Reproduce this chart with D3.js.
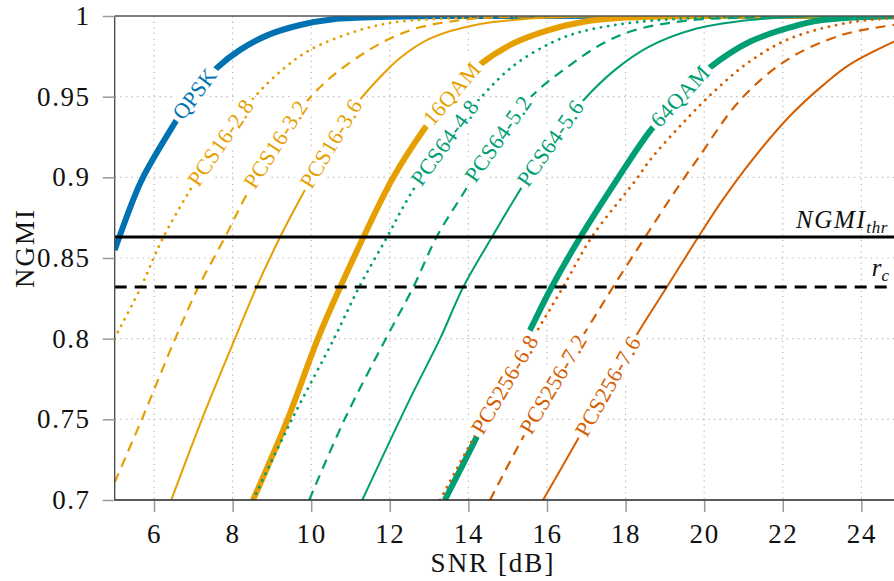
<!DOCTYPE html>
<html>
<head>
<meta charset="utf-8">
<script src="https://cdn.jsdelivr.net/npm/d3@7"></script>
<style>
  body { margin: 0; background: #fff; }
  svg { display: block; }
  text { font-family: "Liberation Serif", "Times New Roman", serif; fill: #111; }
</style>
</head>
<body>
<svg id="chart" width="894" height="581"></svg>
<script>
// ---- data: NGMI versus SNR [dB] ----
const xTicks = [6, 8, 10, 12, 14, 16, 18, 20, 22, 24];
const yTicks = [0.7, 0.75, 0.8, 0.85, 0.9, 0.95, 1];
const yTickLabels = ["0.7", "0.75", "0.8", "0.85", "0.9", "0.95", "1"];

const ngmiThr = 0.863;
const rc = 0.832;

const qpsk = [[5,0.855],[5.47,0.886],[5.72,0.9],[6.46,0.931],[7.0,0.951],[7.61,0.968],[8.19,0.979],[8.88,0.988],[9.72,0.9944],[10.56,0.998],[12,0.9995],[14,1],[25,1]];
const pcs16_28 = [[5,0.8],[5.08,0.804],[5.67,0.832],[5.99,0.85],[6.24,0.863],[6.89,0.891],[7.7,0.922],[8.49,0.948],[9.28,0.967],[9.97,0.979],[11.07,0.99],[12.09,0.996],[14,0.999],[16,1],[25,1]];
const pcs16_32 = [[5,0.711],[5.69,0.75],[6.54,0.8],[7.13,0.832],[7.81,0.863],[8.35,0.889],[9.1,0.921],[9.92,0.948],[10.55,0.963],[11.41,0.978],[12.09,0.987],[12.77,0.993],[14,0.998],[16,1],[25,1]];
const pcs16_36 = [[6.44,0.7],[7.22,0.75],[8.06,0.8],[8.61,0.832],[9.21,0.863],[9.77,0.889],[10.5,0.921],[11.24,0.948],[11.75,0.962],[12.26,0.974],[13.02,0.986],[14.3,0.995],[16,0.999],[18,1],[25,1]];
const qam16 = [[8.52,0.7],[9.4,0.75],[10.17,0.8],[10.74,0.832],[11.33,0.863],[12.09,0.9],[12.85,0.929],[13.6,0.953],[14.3,0.97],[15.14,0.983],[16.0,0.991],[16.84,0.996],[18,0.999],[20,1],[25,1]];
const pcs64_48 = [[8.52,0.7],[9.51,0.75],[10.58,0.8],[11.22,0.832],[11.93,0.863],[12.49,0.888],[13.4,0.922],[14.3,0.949],[15.14,0.969],[16.08,0.983],[16.83,0.99],[18.2,0.996],[20,0.999],[22,1],[25,1]];
const pcs64_52 = [[9.95,0.7],[10.85,0.75],[11.9,0.8],[12.6,0.832],[13.19,0.863],[13.87,0.89],[14.75,0.924],[15.64,0.951],[16.5,0.968],[17.35,0.982],[18.2,0.991],[19.5,0.997],[21,0.999],[23,1],[25,1]];
const pcs64_56 = [[11.3,0.7],[12.52,0.763],[13.28,0.8],[13.87,0.832],[14.6,0.863],[15.26,0.89],[16.1,0.922],[16.9,0.947],[17.7,0.966],[18.6,0.981],[19.7,0.9915],[21.16,0.9975],[23,1],[25,1]];
const qam64 = [[13.4,0.7],[14.17,0.737],[14.85,0.771],[15.52,0.803],[16.12,0.832],[16.85,0.863],[17.82,0.9],[18.6,0.928],[19.4,0.951],[20.14,0.968],[21.16,0.984],[22.2,0.993],[23.0,0.9975],[25,1]];
const pcs256_68 = [[13.28,0.7],[14.1,0.737],[14.9,0.771],[15.75,0.805],[16.41,0.832],[17.14,0.863],[18.28,0.899],[18.63,0.911],[19.47,0.934],[20.33,0.955],[21.17,0.972],[22.18,0.986],[23.7,0.996],[25,0.999]];
const pcs256_72 = [[14.55,0.7],[15.26,0.733],[16.1,0.77],[17.02,0.806],[17.68,0.832],[18.5,0.863],[19.25,0.891],[19.82,0.911],[20.92,0.948],[22.12,0.973],[23.47,0.988],[24.56,0.9935],[25,0.995]];
const pcs256_76 = [[15.9,0.7],[16.77,0.737],[17.55,0.771],[18.3,0.803],[19.05,0.832],[19.85,0.863],[20.47,0.886],[21.23,0.911],[22.18,0.938],[23.02,0.957],[23.71,0.97],[25,0.986]];

const colors = { qpsk: "#0072B2", qam16: "#E69F00", qam64: "#009E73", qam256: "#D55E00" };

const series = [
  { name: "QPSK",       data: qpsk,      color: colors.qpsk,   kind: "thick",  labelAt: 7.03 },
  { name: "PCS16-2.8",  data: pcs16_28,  color: colors.qam16,  kind: "dotted", labelAt: 7.69 },
  { name: "PCS16-3.2",  data: pcs16_32,  color: colors.qam16,  kind: "dashed", labelAt: 9.09 },
  { name: "PCS16-3.6",  data: pcs16_36,  color: colors.qam16,  kind: "thin",   labelAt: 10.5 },
  { name: "16QAM",      data: qam16,     color: colors.qam16,  kind: "thick",  labelAt: 13.57 },
  { name: "PCS64-4.8",  data: pcs64_48,  color: colors.qam64,  kind: "dotted", labelAt: 13.39 },
  { name: "PCS64-5.2",  data: pcs64_52,  color: colors.qam64,  kind: "dashed", labelAt: 14.75 },
  { name: "PCS64-5.6",  data: pcs64_56,  color: colors.qam64,  kind: "thin",   labelAt: 16.08 },
  { name: "64QAM",      data: qam64,     color: colors.qam64,  kind: "thick",  labelAt: 19.38 },
  { name: "PCS256-6.8", data: pcs256_68, color: colors.qam256, kind: "dotted", labelAt: 14.92 },
  { name: "PCS256-7.2", data: pcs256_72, color: colors.qam256, kind: "dashed", labelAt: 16.15 },
  { name: "PCS256-7.6", data: pcs256_76, color: colors.qam256, kind: "thin",   labelAt: 17.54 }
];

const lineStyles = {
  thick:  { width: 6,   dash: null },
  thin:   { width: 2,   dash: null },
  dashed: { width: 2.2, dash: "10,7" },
  dotted: { width: 2.8, dash: "0.1,7.2" }
};

// ---- layout ----
const svg = d3.select("#chart");
const plot = { left: 114.7, top: 16, right: 894, bottom: 500 };
const x = d3.scaleLinear().domain([5, 24.83]).range([plot.left, plot.right]);
const y = d3.scaleLinear().domain([0.7, 1]).range([plot.bottom, plot.top]);

svg.append("defs").append("clipPath").attr("id", "plotClip")
  .append("rect")
  .attr("x", plot.left).attr("y", plot.top)
  .attr("width", plot.right - plot.left).attr("height", plot.bottom - plot.top);

// grid
const grid = svg.append("g").attr("stroke", "#b8b8b8").attr("stroke-width", 1.2)
  .attr("stroke-dasharray", "1.3,4.3");
grid.selectAll("line.vx").data(xTicks).join("line")
  .attr("x1", d => x(d)).attr("x2", d => x(d))
  .attr("y1", plot.top).attr("y2", plot.bottom);
grid.selectAll("line.hy").data(yTicks.filter(v => v > 0.7 && v < 1)).join("line")
  .attr("x1", plot.left).attr("x2", plot.right)
  .attr("y1", d => y(d)).attr("y2", d => y(d));

// curves
const line = d3.line().x(d => x(d[0])).y(d => y(d[1])).curve(d3.curveCatmullRom.alpha(0.5));
const curves = svg.append("g").attr("clip-path", "url(#plotClip)");
series.forEach(s => {
  const st = lineStyles[s.kind];
  curves.append("path")
    .datum(s.data)
    .attr("d", line)
    .attr("fill", "none")
    .attr("stroke", s.color)
    .attr("stroke-width", st.width)
    .attr("stroke-linejoin", "round")
    .attr("stroke-linecap", s.kind === "dotted" ? "round" : "butt")
    .attr("stroke-dasharray", st.dash);
});

// threshold lines
curves.append("line")
  .attr("x1", plot.left).attr("x2", plot.right)
  .attr("y1", y(ngmiThr)).attr("y2", y(ngmiThr))
  .attr("stroke", "#000").attr("stroke-width", 3);
curves.append("line")
  .attr("x1", plot.left).attr("x2", plot.right)
  .attr("y1", y(rc)).attr("y2", y(rc))
  .attr("stroke", "#000").attr("stroke-width", 3)
  .attr("stroke-dasharray", "12,8");

// sloped curve labels sitting on their curve
function interp(data, sx) {
  for (let i = 0; i < data.length - 1; i++) {
    const a = data[i], b = data[i + 1];
    if (sx >= a[0] && sx <= b[0]) {
      const t = (sx - a[0]) / (b[0] - a[0]);
      return a[1] + t * (b[1] - a[1]);
    }
  }
  return data[data.length - 1][1];
}
const labels = svg.append("g");
series.forEach(s => {
  const px = x(s.labelAt), py = y(interp(s.data, s.labelAt));
  const d = 0.7;
  const x0 = x(s.labelAt - d), y0 = y(interp(s.data, s.labelAt - d));
  const x1 = x(s.labelAt + d), y1 = y(interp(s.data, s.labelAt + d));
  const ang = Math.atan2(y1 - y0, x1 - x0) * 180 / Math.PI;
  const g = labels.append("g").attr("transform", `translate(${px},${py}) rotate(${ang})`);
  const bg = g.append("rect").attr("fill", "#fff");
  const t = g.append("text")
    .attr("text-anchor", "middle")
    .attr("dy", "0.35em")
    .style("font-size", "22px")
    .style("letter-spacing", "0.4px")
    .style("fill", s.color)
    .text(s.name);
  const bb = t.node().getBBox();
  const pad = 3.5;
  bg.attr("x", bb.x - pad).attr("y", bb.y - 1)
    .attr("width", bb.width + 2 * pad).attr("height", bb.height + 2);
});

// threshold annotations
const thrLabel = svg.append("text")
  .attr("x", 888).attr("y", y(ngmiThr) - 9)
  .attr("text-anchor", "end")
  .style("font-size", "25px").style("font-style", "italic").style("letter-spacing", "1.6px");
thrLabel.append("tspan").text("NGMI");
thrLabel.append("tspan").attr("dy", 5).style("font-size", "17px").style("letter-spacing", "0.6px").text("thr");

const rcLabel = svg.append("text")
  .attr("x", 889).attr("y", y(rc) - 11)
  .attr("text-anchor", "end")
  .style("font-size", "25px").style("font-style", "italic");
rcLabel.append("tspan").text("r");
rcLabel.append("tspan").attr("dy", 5).style("font-size", "17px").text("c");

// axes frame
svg.append("line").attr("x1", plot.left).attr("x2", plot.left)
  .attr("y1", plot.top).attr("y2", plot.bottom)
  .attr("stroke", "#444").attr("stroke-width", 1.3);
svg.append("line").attr("x1", plot.left).attr("x2", plot.right)
  .attr("y1", plot.top).attr("y2", plot.top)
  .attr("stroke", "#555").attr("stroke-width", 1.3);
svg.append("line").attr("x1", plot.left).attr("x2", plot.right)
  .attr("y1", plot.bottom).attr("y2", plot.bottom)
  .attr("stroke", "#222").attr("stroke-width", 1.3);

// axes ticks and labels
const xAxis = d3.axisBottom(x).tickValues(xTicks).tickSize(12).tickPadding(12).tickFormat(d3.format("d"));
const yAxis = d3.axisLeft(y).tickValues(yTicks).tickSize(12).tickPadding(12)
  .tickFormat((d, i) => yTickLabels[i]);

const gx = svg.append("g").attr("transform", `translate(0,${plot.bottom})`).call(xAxis);
const gy = svg.append("g").attr("transform", `translate(${plot.left},0)`).call(yAxis);
[gx, gy].forEach(g => {
  g.attr("font-family", null);
  g.select(".domain").remove();
  g.selectAll(".tick line").attr("stroke", "#999").attr("stroke-width", 1.5);
  g.selectAll(".tick text").style("font-family", '"Liberation Serif", serif')
    .style("font-size", "27px").style("letter-spacing", "1.6px").attr("fill", "#111");
});
gx.selectAll(".tick line").attr("y1", 1);

// axis titles
svg.append("text")
  .attr("x", 493).attr("y", 572)
  .attr("text-anchor", "middle").style("font-size", "27px").style("letter-spacing", "2px")
  .text("SNR [dB]");
svg.append("text")
  .attr("transform", `translate(34,248) rotate(-90)`)
  .attr("text-anchor", "middle").style("font-size", "27px").style("letter-spacing", "2px")
  .text("NGMI");
</script>
</body>
</html>
